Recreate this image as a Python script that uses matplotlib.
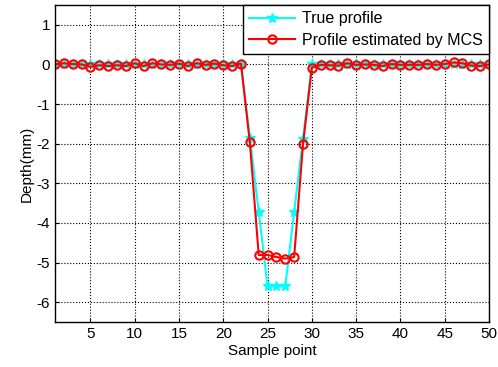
import matplotlib
matplotlib.use('Agg')
import matplotlib.pyplot as plt
import numpy as np

plt.rcParams['font.family'] = ['Liberation Sans', 'DejaVu Sans']
plt.rcParams['axes.unicode_minus'] = False

# sample points 1..50
sample = np.arange(1, 51)

true_profile = [0.0] * 22 + [-1.85, -3.72, -5.6, -5.6, -5.6, -3.72, -1.87] + [0.0] * 21

mcs_profile = [0.0, 0.03, 0.01, 0.0, -0.06, -0.02, -0.04, -0.02, -0.04, 0.03,
               -0.04, 0.03, 0.0, -0.01, 0.02, -0.04, 0.03, -0.01, 0.02, -0.02,
               -0.04, 0.02, -1.97, -4.81, -4.81, -4.86, -4.9, -4.86, -2.02, -0.08,
               -0.01, -0.02, -0.03, 0.03, -0.01, 0.0, -0.01, -0.04, 0.01, -0.01,
               -0.01, -0.01, 0.01, -0.01, 0.01, 0.05, 0.03, -0.03, -0.04, 0.0]

fig = plt.figure(figsize=(4.98, 3.67), dpi=100)
ax = fig.add_axes([55 / 498, 45 / 367, 434 / 498, 317 / 367])

ax.plot(sample, true_profile, color='cyan', lw=1.5, marker='*', ms=7,
        label='True profile')
ax.plot(sample, mcs_profile, color='red', lw=1.5, marker='o', ms=6,
        mfc='none', mew=1.5, label='Profile estimated by MCS')

ax.set_xlim(1, 50)
ax.set_ylim(-6.5, 1.5)
ax.set_xticks(range(5, 51, 5))
ax.set_yticks(range(-6, 2))
ax.grid(True, color='black', linestyle=':', linewidth=0.8)
ax.tick_params(direction='in', labelsize=11, length=3)
for s in ax.spines.values():
    s.set_linewidth(1.0)

ax.set_xlabel('Sample point', fontsize=11, labelpad=2)
ax.set_ylabel('Depth(mm)', fontsize=11, labelpad=2)

leg = ax.legend(loc='upper right', fontsize=11.5, fancybox=False,
                edgecolor='black', framealpha=1, borderaxespad=0,
                handlelength=2.9, handletextpad=0.4, borderpad=0.4,
                labelspacing=0.4)
leg.get_frame().set_linewidth(1.0)

fig.savefig('out.png', dpi=100)
